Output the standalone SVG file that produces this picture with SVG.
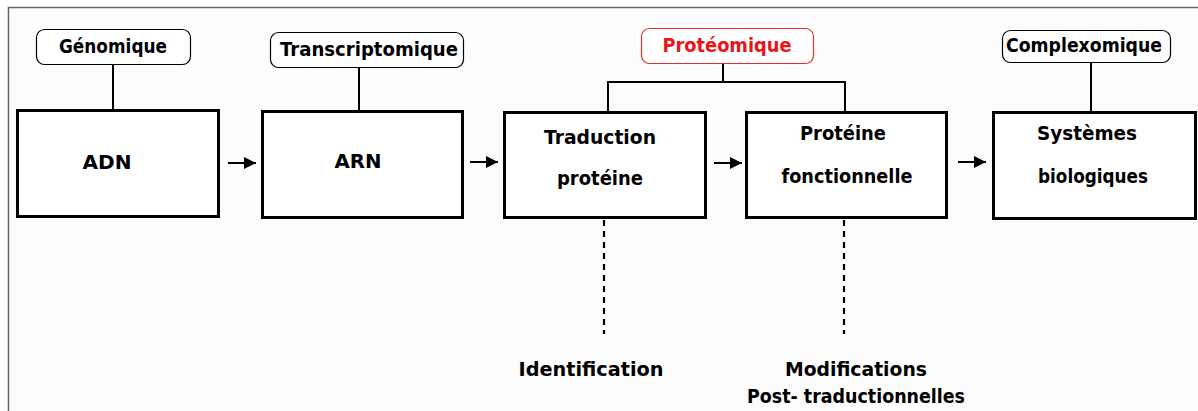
<svg xmlns="http://www.w3.org/2000/svg" width="1198" height="411" viewBox="0 0 1198 411">
<defs>
<style>
.box{fill:#fff;stroke:#000;stroke-width:3}
.tag{fill:#fff;stroke:#000;stroke-width:1.2}
.tagr{fill:#fff;stroke:#e03030;stroke-width:1.2}
.ln{stroke:#000;stroke-width:2;fill:none}
.dash{stroke:#000;stroke-width:2.2;fill:none;stroke-dasharray:6 5}
.t{font-family:"DejaVu Sans","Liberation Sans",sans-serif;font-weight:bold;font-size:19px;fill:#000;text-anchor:middle}
.tr{fill:#e8141a}
</style>
<marker id="ah" viewBox="0 0 10 10" refX="10" refY="5" markerWidth="6" markerHeight="6.5" orient="auto" markerUnits="strokeWidth">
<path d="M0,0 L10,5 L0,10 Z" fill="#000"/>
</marker>
</defs>
<rect x="0" y="0" width="1198" height="411" fill="#fff"/>
<rect x="8.5" y="7.5" width="1195" height="410" fill="#fcfcfc" stroke="#666" stroke-width="1.5"/>

<g id="connectors">
<line class="ln" x1="113" y1="64" x2="113" y2="110"/>
<line class="ln" x1="359" y1="68" x2="359" y2="111"/>
<polyline class="ln" points="723,63 723,82"/>
<polyline class="ln" points="608,112 608,82 845,82 845,112"/>
<line class="ln" x1="1091" y1="62" x2="1091" y2="112"/>
<line class="ln" x1="228" y1="163" x2="256" y2="163" marker-end="url(#ah)"/>
<line class="ln" x1="470" y1="162" x2="498" y2="162" marker-end="url(#ah)"/>
<line class="ln" x1="714" y1="163" x2="742" y2="163" marker-end="url(#ah)"/>
<line class="ln" x1="958" y1="162" x2="986" y2="162" marker-end="url(#ah)"/>
<line class="dash" x1="604" y1="220" x2="604" y2="334"/>
<line class="dash" x1="844" y1="220" x2="844" y2="334"/>
</g>

<g id="genomique">
<rect class="tag" x="36.5" y="29.5" width="154" height="35" rx="8"/>
<text class="t" x="113" y="53" textLength="108" lengthAdjust="spacingAndGlyphs">Génomique</text>
</g>
<g id="transcriptomique">
<rect class="tag" x="270.5" y="32.5" width="193" height="35" rx="8"/>
<text class="t" x="369" y="56" textLength="178" lengthAdjust="spacingAndGlyphs">Transcriptomique</text>
</g>
<g id="proteomique">
<rect class="tagr" x="641.5" y="28.5" width="172" height="35" rx="8"/>
<text class="t tr" x="727" y="52" textLength="129" lengthAdjust="spacingAndGlyphs">Protéomique</text>
</g>
<g id="complexomique">
<rect class="tag" x="1002.5" y="30.5" width="168" height="32" rx="8"/>
<text class="t" x="1084" y="52" textLength="156" lengthAdjust="spacingAndGlyphs">Complexomique</text>
</g>

<g id="adn">
<rect class="box" x="17.5" y="110.5" width="201" height="106"/>
<text class="t" x="107" y="169" textLength="49" lengthAdjust="spacingAndGlyphs">ADN</text>
</g>
<g id="arn">
<rect class="box" x="262.5" y="111.5" width="200" height="106"/>
<text class="t" x="358" y="168" textLength="47" lengthAdjust="spacingAndGlyphs">ARN</text>
</g>
<g id="traduction">
<rect class="box" x="504.5" y="112.5" width="201" height="105"/>
<text class="t" x="600" y="144" textLength="112" lengthAdjust="spacingAndGlyphs">Traduction</text>
<text class="t" x="600" y="185" textLength="86" lengthAdjust="spacingAndGlyphs">protéine</text>
</g>
<g id="proteine">
<rect class="box" x="746.5" y="112.5" width="200" height="105"/>
<text class="t" x="843" y="140" textLength="86" lengthAdjust="spacingAndGlyphs">Protéine</text>
<text class="t" x="847" y="183" textLength="131" lengthAdjust="spacingAndGlyphs">fonctionnelle</text>
</g>
<g id="systemes">
<rect class="box" x="993.5" y="112.5" width="202" height="106"/>
<text class="t" x="1087" y="140" textLength="100" lengthAdjust="spacingAndGlyphs">Systèmes</text>
<text class="t" x="1093" y="183" textLength="110" lengthAdjust="spacingAndGlyphs">biologiques</text>
</g>

<g id="identification">
<text class="t" x="591" y="376" textLength="145" lengthAdjust="spacingAndGlyphs">Identification</text>
</g>
<g id="modifications">
<text class="t" x="856" y="376" textLength="142" lengthAdjust="spacingAndGlyphs">Modifications</text>
<text class="t" x="856" y="403" textLength="218" lengthAdjust="spacingAndGlyphs">Post- traductionnelles</text>
</g>
</svg>
